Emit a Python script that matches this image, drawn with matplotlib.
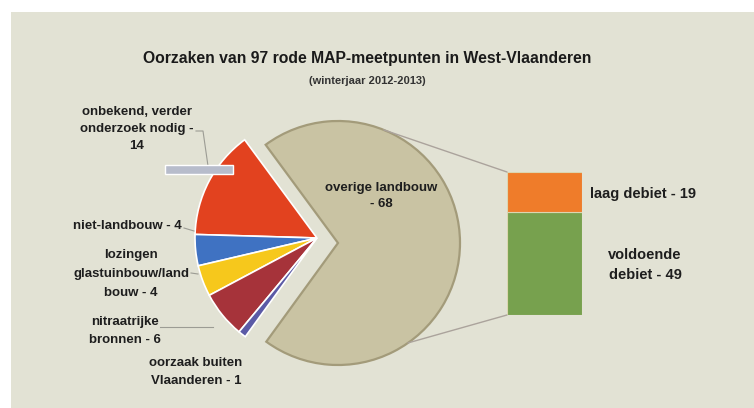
import numpy as np
import matplotlib
matplotlib.use("Agg")
import matplotlib.pyplot as plt
from matplotlib.patches import Rectangle, ConnectionPatch

plt.rcParams['font.family'] = ['Liberation Sans', 'DejaVu Sans']

# data
pie_labels = ["overige landbouw", "onbekend, verder onderzoek nodig", "niet-landbouw",
              "lozingen glastuinbouw/landbouw", "nitraatrijke bronnen",
              "oorzaak buiten Vlaanderen"]
pie_values = [68, 14, 4, 4, 6, 1]
pie_colors = ["#c9c3a3", "#e2421f", "#3f72c2", "#f6c81c", "#a6333a", "#5b5aa6"]

bar_labels = ["voldoende debiet", "laag debiet"]
bar_values = [49, 19]
bar_colors = ["#77a14e", "#ef7c2a"]

title = "Oorzaken van 97 rode MAP-meetpunten in West-Vlaanderen"
subtitle = "(winterjaar 2012-2013)"

W, H = 754, 408
fig = plt.figure(figsize=(W / 100, H / 100), dpi=100)
fig.patch.set_facecolor("white")

ax = fig.add_axes([0, 0, 1, 1])

# pie: grey wedge pushed to the right, the rest to the left
radius = 122
start = -126
wedges_a, _ = ax.pie(pie_values, colors=pie_colors, startangle=start, counterclock=True,
                     center=(338, 165), radius=radius,
                     wedgeprops=dict(edgecolor="#a39b7a", linewidth=1.6))
wedges_b, _ = ax.pie(pie_values, colors=pie_colors, startangle=start, counterclock=True,
                     center=(317, 170), radius=radius,
                     wedgeprops=dict(edgecolor="white", linewidth=1.2))
for w in wedges_a[1:]:
    w.set_visible(False)
wedges_b[0].set_visible(False)

ax.set_xlim(0, W)
ax.set_ylim(0, H)
ax.set_aspect("equal")
ax.axis("off")

# beige panel
ax.add_patch(Rectangle((11, 0), W - 11, H - 12, facecolor="#e2e2d4", edgecolor="none", zorder=0))

# stacked bar in its own axes
bax = fig.add_axes([507 / W, (H - 315) / H, 75 / W, 143 / H])
bottom = 0
for v, c in zip(bar_values, bar_colors):
    bax.bar(0, v, bottom=bottom, width=1.0, color=c, edgecolor="#dcd6b0", linewidth=0.8)
    bottom += v
bax.set_xlim(-0.5, 0.5)
bax.set_ylim(0, sum(bar_values))
bax.axis("off")

# connector lines pie -> bar
for ang, yb in [(68, sum(bar_values)), (-55, 0)]:
    p = (338 + radius * np.cos(np.radians(ang)), 165 + radius * np.sin(np.radians(ang)))
    con = ConnectionPatch(xyA=p, coordsA=ax.transData, xyB=(-0.5, yb), coordsB=bax.transData,
                          color="#aba39c", linewidth=1.0)
    fig.add_artist(con)

txt = dict(fontsize=9.5, fontweight="bold", color="#1e1e1e", ha="center", va="center")
big = {**txt, "fontsize": 10.5}

ax.text(367, H - 58, title, fontsize=11.3, fontweight="bold", color="#1a1a1a", ha="center", va="center")
ax.text(367, H - 81, subtitle, fontsize=8, fontweight="bold", color="#333333", ha="center", va="center")

ax.text(381, H - 196, "overige landbouw\n- 68", linespacing=1.5, **txt)
ax.text(137, H - 129, "onbekend, verder\nonderzoek nodig -\n14", linespacing=1.6, **txt)
ax.text(182, H - 226, "niet-landbouw - 4", **{**txt, "ha": "right"})
ax.text(131, H - 274, "lozingen\nglastuinbouw/land\nbouw - 4", linespacing=1.75, **txt)
ax.text(125, H - 331, "nitraatrijke\nbronnen - 6", linespacing=1.65, **txt)
ax.text(196, H - 372, "oorzaak buiten\nVlaanderen - 1", linespacing=1.7, **txt)
ax.text(590, H - 194, "laag debiet - 19", **{**big, "ha": "left"})
ax.text(645, H - 265, "voldoende\ndebiet - 49", linespacing=1.6, **big)

# leader lines
lc = dict(color="#9c9c94", linewidth=0.8)
ax.plot([196, 203, 208], [H - 131, H - 131, H - 166], **lc)
ax.plot([184, 194], [H - 228, H - 231], **lc)
ax.plot([191, 198], [H - 273, H - 274], **lc)
ax.plot([160, 213], [H - 327, H - 327], **lc)

# small highlighted label box
ax.add_patch(Rectangle((165, H - 174), 68, 9, facecolor="#b7bccb", edgecolor="white", linewidth=1.0, zorder=5))

fig.savefig("out.png", dpi=100, facecolor=fig.get_facecolor())
